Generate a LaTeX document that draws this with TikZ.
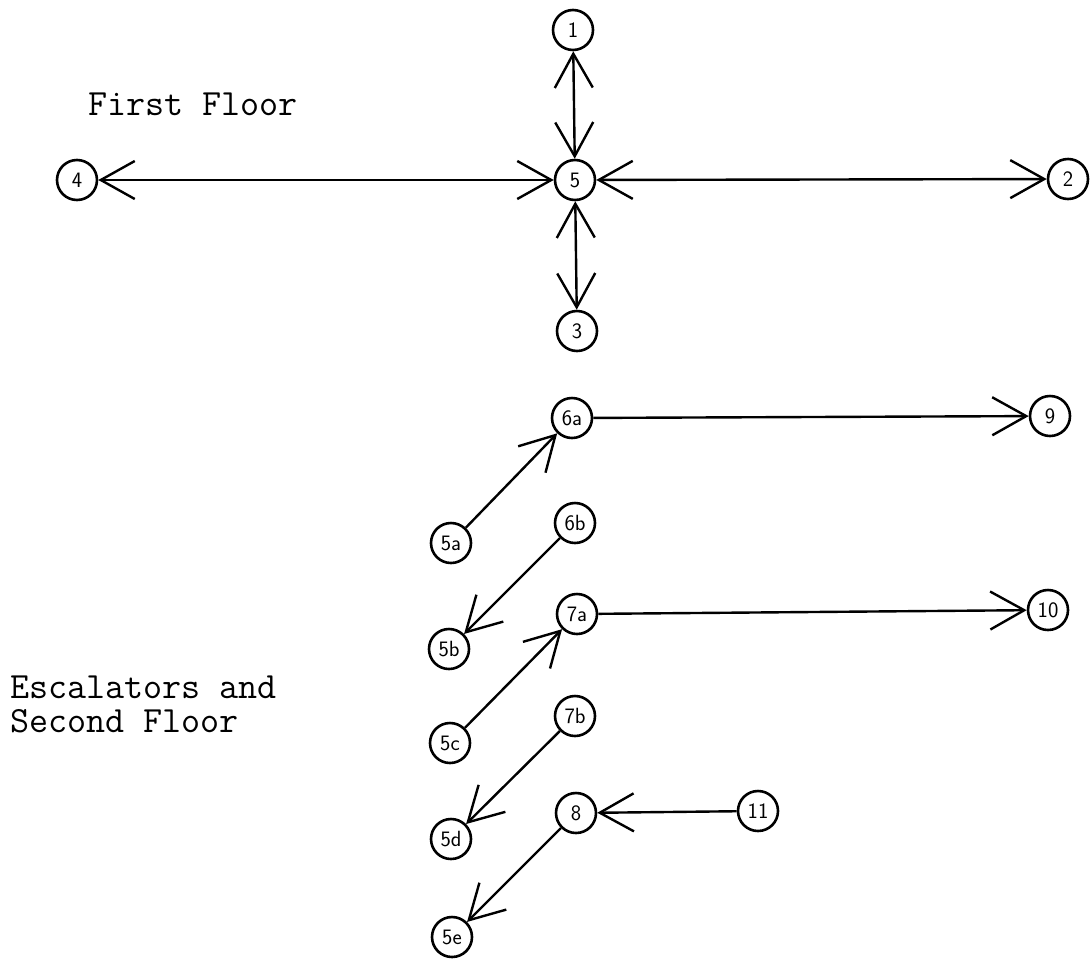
\documentclass[tikz,border=0pt]{standalone}
\usetikzlibrary{arrows.meta}
\begin{document}
\begin{tikzpicture}[x=1pt,y=-1pt,
  >={Straight Barb[length=34pt,width=38pt]},
  place/.style={circle,draw,line width=2.6pt,minimum size=40pt,inner sep=0pt,
    font=\sffamily\fontsize{22}{22}\selectfont},
  flow/.style={line width=2.4pt},
  caption/.style={font=\ttfamily\fontsize{37}{34}\selectfont,inner sep=0pt,anchor=base west}]
\useasboundingbox (0,0) rectangle (1091,959);

% first floor
\node[place] (n1) at (573,30) {1};
\node[place] (n5) at (575,180) {5};
\node[place] (n3) at (577,331) {3};
\node[place] (n4) at (77,180) {4};
\node[place] (n2) at (1068,179) {2};

\draw[flow,<->] (n4) -- (n5);
\draw[flow,<->] (n5) -- (n2);
\draw[flow,<->] (n1) -- (n5);
\draw[flow,<->] (n5) -- (n3);

\node[caption] (ff) at (88,115) {First Floor};

% escalators and second floor
\node[place] (n6a) at (572,418) {6a};
\node[place] (n9)  at (1050,416) {9};
\node[place] (n5a) at (451,543) {5a};
\node[place] (n6b) at (575,523) {6b};
\node[place] (n5b) at (449,649) {5b};
\node[place] (n7a) at (577,614) {7a};
\node[place] (n10) at (1048,610) {10};
\node[place] (n5c) at (450,743) {5c};
\node[place] (n7b) at (575,716) {7b};
\node[place] (n5d) at (451,839) {5d};
\node[place] (n8)  at (576,813) {8};
\node[place] (n11) at (758,811) {11};
\node[place] (n5e) at (452,937) {5e};

\draw[flow,->] (n6a) -- (n9);
\draw[flow,->] (n5a) -- (n6a);
\draw[flow,->] (n6b) -- (n5b);
\draw[flow,->] (n7a) -- (n10);
\draw[flow,->] (n5c) -- (n7a);
\draw[flow,->] (n7b) -- (n5d);
\draw[flow,->] (n11) -- (n8);
\draw[flow,->] (n8) -- (n5e);

\node[caption] (esc) at (10,698) {Escalators and};
\node[caption] (sec) at (10,732) {Second Floor};
\end{tikzpicture}
\end{document}
